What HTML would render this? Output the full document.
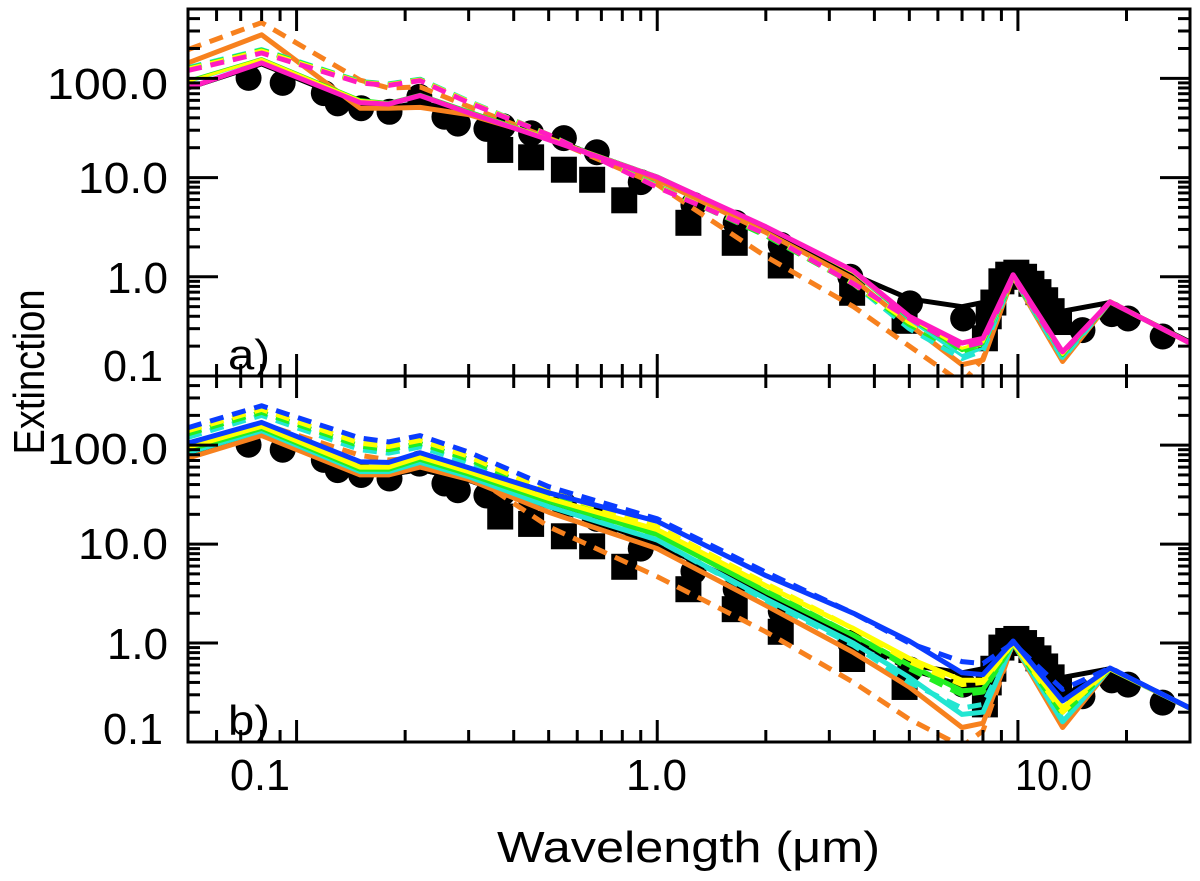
<!DOCTYPE html>
<html><head><meta charset="utf-8"><style>
html,body{margin:0;padding:0;background:#fff}
svg{display:block}
text{font-family:"Liberation Sans",sans-serif;fill:#000}
</style></head><body>
<svg id="chart" width="1200" height="881" viewBox="0 0 1200 881" xmlns="http://www.w3.org/2000/svg">
<defs>
<clipPath id="clipA"><rect x="188" y="9" width="1002" height="367"/></clipPath>
<clipPath id="clipB"><rect x="188" y="376" width="1002" height="366"/></clipPath>
</defs>
<g id="panelA"><g id="plotA" clip-path="url(#clipA)"></g></g>
<g id="panelB"><g id="plotB" clip-path="url(#clipB)"></g></g>
<g id="axes"></g>
<text x="228" y="369" font-size="42" textLength="42" lengthAdjust="spacingAndGlyphs">a)</text>
<text x="228" y="735" font-size="42" textLength="42" lengthAdjust="spacingAndGlyphs">b)</text>
<text x="47" y="99" font-size="44" textLength="121" lengthAdjust="spacingAndGlyphs">100.0</text>
<text x="78" y="193" font-size="44" textLength="90" lengthAdjust="spacingAndGlyphs">10.0</text>
<text x="107" y="293" font-size="44" textLength="61" lengthAdjust="spacingAndGlyphs">1.0</text>
<text x="103" y="381" font-size="44" textLength="60" lengthAdjust="spacingAndGlyphs">0.1</text>
<text x="47" y="464" font-size="44" textLength="121" lengthAdjust="spacingAndGlyphs">100.0</text>
<text x="78" y="559" font-size="44" textLength="90" lengthAdjust="spacingAndGlyphs">10.0</text>
<text x="107" y="659" font-size="44" textLength="61" lengthAdjust="spacingAndGlyphs">1.0</text>
<text x="103" y="744" font-size="44" textLength="60" lengthAdjust="spacingAndGlyphs">0.1</text>
<text x="230" y="790" font-size="44" textLength="60" lengthAdjust="spacingAndGlyphs">0.1</text>
<text x="626" y="790" font-size="44" textLength="61" lengthAdjust="spacingAndGlyphs">1.0</text>
<text x="1015" y="790" font-size="44" textLength="77" lengthAdjust="spacingAndGlyphs">10.0</text>
<text x="497" y="862" font-size="44" textLength="383" lengthAdjust="spacingAndGlyphs">Wavelength (μm)</text>
<text x="0" y="0" font-size="44" textLength="165" lengthAdjust="spacingAndGlyphs" text-anchor="middle" transform="translate(44,372) rotate(-90)">Extinction</text>
</svg>
<script>
// ---- data ----
const lam = [0.05,0.08,0.15,0.18,0.22,0.3,0.5,1,2,3.5,5,7,8,9.7,13.3,18,30];
const circLam = [0.0736,0.0915,0.119,0.130,0.151,0.181,0.219,0.257,0.280,0.336,0.373,0.447,0.551,0.68,0.90,1.26,1.65,2.2,3.43,5.02,7.05,15.1,18.2,20.2,25.2];
const circExt = [101,90,71,56,50,46,65,41,35,31,33,28,25,18,9.0,5.3,3.5,2.1,1.0,0.54,0.38,0.29,0.42,0.38,0.25];
const sqLam = [0.367,0.447,0.551,0.66,0.81,1.22,1.64,2.2,3.47,4.85,8.1,8.3,8.55,9.0,9.4,9.9,10.4,10.9,11.4,11.9,12.4,13.0];
const sqExt = [19,16,12,9.5,5.9,3.5,2.2,1.3,0.69,0.36,0.24,0.4,0.55,0.9,1.05,1.1,1.0,0.85,0.7,0.58,0.45,0.35];
// panel a series
const aBlack  = [80,140,55,50,57,44,25,10,3.1,1.05,0.6,0.5,0.55,1.1,0.45,0.55,0.22];
const aOrange = [143,275,50,50,51,43,25,9.5,2.8,0.95,0.33,0.13,0.145,1.0,0.14,0.56,0.215];
const aOrangeD= [195,365,96,80,82,52,25,8.5,1.6,0.5,0.2,0.085,0.15,1.0,0.16,0.56,0.215];
const aCyan   = [92,155,60,56,68,47,25,10.3,3.2,1.1,0.37,0.16,0.19,1.0,0.15,0.56,0.215];
const aGreen  = [95,158,61,57,69,47,25,10.4,3.2,1.1,0.38,0.18,0.21,1.0,0.16,0.56,0.215];
const aYellow = [93,156,60,56,68,46,25,10.3,3.2,1.1,0.39,0.19,0.22,1.0,0.165,0.56,0.215];
const aCyanD  = [128,195,93,88,98,59,27,8.3,2.6,0.85,0.3,0.15,0.18,1.0,0.15,0.56,0.215];
const aGreenD = [126,192,92,87,97,58,27,8.2,2.6,0.85,0.33,0.17,0.2,1.0,0.16,0.56,0.215];
const aYellowD= [124,188,91,86,96,58,27,8.1,2.7,0.85,0.35,0.19,0.21,1.0,0.165,0.56,0.215];
const aMagD   = [120,180,90,85,95,57,27,8,2.7,0.85,0.38,0.195,0.22,1.0,0.17,0.56,0.215];
const aMag    = [80,143,57,55,67,45,24,10.1,3.2,1.15,0.40,0.215,0.24,1.05,0.175,0.56,0.215];
// panel b series
const bBlack  = [80,140,55,50,57,44,25,10,3.1,1.05,0.6,0.5,0.55,1.1,0.45,0.55,0.22];
const bBlackD = [80,135,52,50,57,44,24,10,3.0,1.05,0.55,0.37,0.4,1.05,0.3,0.55,0.22];
const bOrangeD= [105,165,79,71,74,52,15,4.7,1.3,0.4,0.17,0.09,0.13,1.0,0.16,0.55,0.22];
const bOrange = [74,125,50,50,60,45,21,9,2.4,0.8,0.36,0.14,0.155,1.0,0.14,0.55,0.22];
const bCyanD  = [120,200,90,83,96,66,28,11,2.7,0.95,0.4,0.22,0.24,1.0,0.17,0.55,0.22];
const bCyan   = [84,140,54,54,67,48,24,11,2.8,1.0,0.45,0.19,0.2,1.0,0.16,0.55,0.22];
const bGreenD = [130,215,98,90,104,72,31,13,3.4,1.2,0.55,0.3,0.32,1.0,0.19,0.55,0.22];
const bGreen  = [90,148,57,57,72,51,27,12.5,3.3,1.2,0.6,0.33,0.34,1.0,0.2,0.55,0.22];
const bYellowD= [140,230,105,97,112,77,34,15,4.0,1.4,0.65,0.38,0.4,1.0,0.2,0.55,0.22];
const bYellow = [95,155,60,60,76,54,29,14,3.8,1.4,0.7,0.42,0.42,1.0,0.22,0.55,0.22];
const bBlueD  = [150,250,118,108,125,85,38,18,5.2,2.0,1.0,0.65,0.62,1.0,0.34,0.56,0.22];
const bBlue   = [105,170,68,67,84,59,33,17,4.8,2.0,1.05,0.5,0.48,1.05,0.26,0.56,0.22];
const xTickMajor = [0.1,1,10];
const yTickMajor = [0.1,1,10,100];

// ---- scales ----
const X0=188, X1=1190, LX0=Math.log10(0.05), LX1=Math.log10(30);
function xs(v){return X0+(Math.log10(v)-LX0)/(LX1-LX0)*(X1-X0);}
function ysA(v){return 376-(Math.log10(v)+1)/(Math.log10(500)+1)*367;}
function ysB(v){return 742-(Math.log10(v)+1)/(Math.log10(500)+1)*366;}
const NS='http://www.w3.org/2000/svg';
function mk(tag,attrs,parent){const e=document.createElementNS(NS,tag);for(const k in attrs)e.setAttribute(k,attrs[k]);parent.appendChild(e);return e;}

function markers(g,ys){
  circLam.forEach((l,i)=>{const c=mk('circle',{cx:xs(l),cy:ys(circExt[i]),r:13,fill:'#000'},g);
    
    });
  sqLam.forEach((l,i)=>{const r=mk('rect',{x:xs(l)-13,y:ys(sqExt[i])-13,width:26,height:26,fill:'#000'},g);
    
    });
}
function line(g,ys,vals,color,dashed,w,name){
  const d=vals.map((v,i)=>(i?'L':'M')+xs(lam[i]).toFixed(1)+','+ys(v).toFixed(1)).join(' ');
  const p=mk('path',{d:d,fill:'none',stroke:color,'stroke-width':w,'stroke-linejoin':'round'},g);
  if(dashed)p.setAttribute('stroke-dasharray','14 9');
  
  
}
const OR='#f7811e',MG='#ff1cc0',CY='#22e6d2',GR='#22ee22',YE='#ffff00',BL='#0a3cff';
const gA=document.getElementById('plotA'), gB=document.getElementById('plotB');
markers(gA,ysA); markers(gB,ysB);
line(gA,ysA,aBlack,'#000',false,5,'panel-a-black-solid');
line(gA,ysA,aOrangeD,OR,true,5,'panel-a-orange-dashed');
line(gA,ysA,aOrange,OR,false,5,'panel-a-orange-solid');
line(gA,ysA,aCyanD,CY,true,5,'panel-a-cyan-dashed');
line(gA,ysA,aGreenD,GR,true,5,'panel-a-green-dashed');
line(gA,ysA,aYellowD,YE,true,5,'panel-a-yellow-dashed');
line(gA,ysA,aCyan,CY,false,3,'panel-a-cyan-solid');
line(gA,ysA,aGreen,GR,false,3,'panel-a-green-solid');
line(gA,ysA,aYellow,YE,false,3,'panel-a-yellow-solid');
line(gA,ysA,aMagD,MG,true,5,'panel-a-magenta-dashed');
line(gA,ysA,aMag,MG,false,5,'panel-a-magenta-solid');

line(gB,ysB,bBlack,'#000',false,5,'panel-b-black-solid');
line(gB,ysB,bBlackD,'#000',true,5,'panel-b-black-dashed');
line(gB,ysB,bOrangeD,OR,true,5,'panel-b-orange-dashed');
line(gB,ysB,bOrange,OR,false,5,'panel-b-orange-solid');
line(gB,ysB,bCyanD,CY,true,5,'panel-b-cyan-dashed');
line(gB,ysB,bCyan,CY,false,5,'panel-b-cyan-solid');
line(gB,ysB,bGreenD,GR,true,5,'panel-b-green-dashed');
line(gB,ysB,bGreen,GR,false,5,'panel-b-green-solid');
line(gB,ysB,bYellowD,YE,true,5,'panel-b-yellow-dashed');
line(gB,ysB,bYellow,YE,false,5,'panel-b-yellow-solid');
line(gB,ysB,bBlueD,BL,true,5,'panel-b-blue-dashed');
line(gB,ysB,bBlue,BL,false,5,'panel-b-blue-solid');

// ---- axes ----
const ax=document.getElementById('axes');
[[9,376,ysA],[376,742,ysB]].forEach(([top,bot,ys])=>{
  const f=mk('rect',{x:X0,y:top,width:X1-X0,height:bot-top,fill:'none',stroke:'#000','stroke-width':3},ax);
  
  
  for(let e=-2;e<=1;e++)for(let m=1;m<=9;m++){const v=m*Math.pow(10,e);if(v<0.05||v>30)continue;
    const x=xs(v),L=xTickMajor.includes(+v.toPrecision(3))?22:12;
    mk('line',{x1:x,x2:x,y1:bot,y2:bot-L,stroke:'#000','stroke-width':3},ax);
    mk('line',{x1:x,x2:x,y1:top,y2:top+L,stroke:'#000','stroke-width':3},ax);}
  for(let e=-1;e<=2;e++)for(let m=1;m<=9;m++){const v=m*Math.pow(10,e);if(v>500)continue;
    const y=ys(v);if(y<top-0.5)continue;const L=yTickMajor.includes(+v.toPrecision(3))?30:12;
    mk('line',{x1:X0,x2:X0+L,y1:y,y2:y,stroke:'#000','stroke-width':3},ax);
    mk('line',{x1:X1,x2:X1-L,y1:y,y2:y,stroke:'#000','stroke-width':3},ax);}
});
</script>
</body></html>
